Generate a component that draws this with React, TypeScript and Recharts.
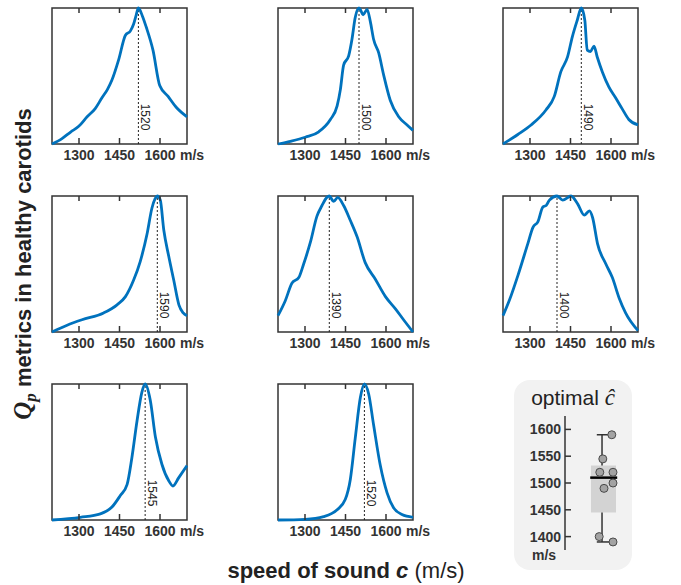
import {
  LineChart,
  Line,
  XAxis,
  YAxis,
  ReferenceLine,
  ReferenceArea,
  ReferenceDot,
  ComposedChart,
  Scatter,
} from 'recharts';

const SPEED_TICKS = [1300, 1450, 1600];
const OPTIMAL_TICKS = [1400, 1450, 1500, 1550, 1600];

const c1Speed = [1200, 1237, 1270, 1299, 1330, 1360, 1385, 1405, 1422, 1447, 1472, 1490, 1502, 1512, 1520, 1535, 1549, 1574, 1599, 1630, 1660, 1700];
const c1Q = [0, 0.04, 0.09, 0.13, 0.2, 0.26, 0.34, 0.4, 0.47, 0.62, 0.8, 0.83, 0.88, 0.95, 1.0, 0.94, 0.86, 0.69, 0.43, 0.35, 0.27, 0.2];

const c2Speed = [1200, 1246, 1301, 1351, 1394, 1419, 1431, 1443, 1462, 1474, 1486, 1500, 1507, 1515, 1530, 1542, 1554, 1573, 1591, 1616, 1647, 1678, 1700];
const c2Q = [0, 0.02, 0.05, 0.09, 0.18, 0.28, 0.4, 0.58, 0.65, 0.77, 0.93, 1.0, 0.98, 0.95, 0.99, 0.9, 0.77, 0.67, 0.51, 0.32, 0.2, 0.14, 0.1];

const c3Speed = [1200, 1255, 1304, 1359, 1390, 1414, 1439, 1457, 1475, 1490, 1503, 1512, 1524, 1537, 1549, 1568, 1592, 1617, 1641, 1666, 1700];
const c3Q = [0, 0.07, 0.14, 0.25, 0.35, 0.53, 0.64, 0.79, 0.91, 1.0, 0.91, 0.69, 0.68, 0.72, 0.64, 0.53, 0.42, 0.34, 0.26, 0.18, 0.14];

const c4Speed = [1200, 1256, 1311, 1391, 1441, 1472, 1502, 1527, 1552, 1570, 1582, 1590, 1601, 1614, 1632, 1651, 1670, 1686, 1700];
const c4Q = [0, 0.05, 0.09, 0.14, 0.2, 0.26, 0.38, 0.52, 0.72, 0.91, 0.98, 1.0, 0.97, 0.75, 0.56, 0.38, 0.2, 0.14, 0.12];

const c5Speed = [1200, 1227, 1252, 1277, 1295, 1320, 1344, 1363, 1381, 1390, 1406, 1421, 1443, 1468, 1493, 1523, 1560, 1598, 1635, 1665, 1700];
const c5Q = [0.12, 0.23, 0.36, 0.4, 0.5, 0.66, 0.85, 0.93, 0.99, 1.0, 0.96, 0.99, 0.93, 0.82, 0.7, 0.51, 0.39, 0.26, 0.17, 0.09, 0];

const c6Speed = [1200, 1225, 1256, 1292, 1311, 1329, 1348, 1360, 1372, 1400, 1421, 1452, 1477, 1501, 1520, 1532, 1550, 1581, 1605, 1630, 1654, 1700];
const c6Q = [0.12, 0.24, 0.42, 0.65, 0.77, 0.81, 0.92, 0.93, 0.97, 1.0, 0.97, 1.0, 0.94, 0.86, 0.89, 0.84, 0.65, 0.5, 0.4, 0.25, 0.14, 0.01];

const c7Speed = [1200, 1305, 1379, 1422, 1453, 1478, 1496, 1515, 1533, 1545, 1564, 1583, 1607, 1632, 1648, 1669, 1700];
const c7Q = [0, 0.02, 0.045, 0.095, 0.18, 0.26, 0.46, 0.73, 0.94, 1.0, 0.88, 0.61, 0.41, 0.29, 0.25, 0.31, 0.4];

const c8Speed = [1200, 1301, 1369, 1419, 1449, 1468, 1486, 1505, 1520, 1536, 1554, 1579, 1604, 1628, 1659, 1700];
const c8Q = [0, 0.005, 0.025, 0.075, 0.15, 0.3, 0.6, 0.9, 1.0, 0.925, 0.7, 0.4, 0.2, 0.09, 0.04, 0.02];

// optimal speed of sound per carotid (peak of each curve)
const OPTIMAL_C = [1520, 1500, 1490, 1590, 1390, 1400, 1545, 1520];
const OPTIMAL_JITTER = [0.58, 0.8, 0.65, 0.78, 0.8, 0.57, 0.63, 0.8];

const CURVES = [
  [c1Speed, c1Q],
  [c2Speed, c2Q],
  [c3Speed, c3Q],
  [c4Speed, c4Q],
  [c5Speed, c5Q],
  [c6Speed, c6Q],
  [c7Speed, c7Q],
  [c8Speed, c8Q],
];

const COL_LEFT = [52, 278, 503];
const ROW_TOP = [8, 196, 384];
const PLOT_H = 136;
const TICK_GAP = 6;
const BLUE = '#0072bd';
const INK = '#333';
const FONT = '"Liberation Sans", Arial, sans-serif';

// x tick: label below the box plus inward marks on bottom and top edges
function SpeedTick({ x, y, payload }: any) {
  const bottom = y - TICK_GAP;
  const top = bottom - PLOT_H;
  return (
    <g>
      <line x1={x} x2={x} y1={bottom} y2={bottom - 6} stroke={INK} strokeWidth={1.5} />
      <line x1={x} x2={x} y1={top} y2={top + 5} stroke={INK} strokeWidth={1.5} />
      <text x={x} y={y} dy="0.71em" textAnchor="middle" fontSize={14} fontWeight="bold" fill={INK} fontFamily={FONT}>
        {payload.value}
      </text>
      {payload.value === 1600 && (
        <text x={x + 20} y={y} dy="0.71em" textAnchor="start" fontSize={14} fontWeight="bold" fill={INK} fontFamily={FONT}>
          m/s
        </text>
      )}
    </g>
  );
}

// y tick for the optimal-c panel: inward mark right of the axis line
function OptimalTick({ x, y, payload }: any) {
  return (
    <g>
      <line x1={x + 4} x2={x + 10} y1={y} y2={y} stroke={INK} strokeWidth={1.5} />
      <text x={x} y={y} dy="0.36em" textAnchor="end" fontSize={14} fontWeight="bold" fill={INK} fontFamily={FONT}>
        {payload.value}
      </text>
    </g>
  );
}

function PeakLabel({ cx, cy, value }: any) {
  const lx = cx + 7;
  const ly = cy - 27;
  return (
    <text
      x={lx}
      y={ly}
      transform={`rotate(90 ${lx} ${ly})`}
      textAnchor="middle"
      dominantBaseline="central"
      fontSize={12}
      fill="#222"
      fontFamily={FONT}
    >
      {value}
    </text>
  );
}

function CurvePanel({ index }: { index: number }) {
  const [speed, q] = CURVES[index];
  const data = speed.map((c, i) => ({ c, q: q[i] }));
  const peak = OPTIMAL_C[index];
  const left = COL_LEFT[index % 3];
  const top = ROW_TOP[Math.floor(index / 3)];
  return (
    <div style={{ position: 'absolute', left: left - 4, top: top - 4 }}>
      <LineChart width={179} height={4 + PLOT_H + 35} data={data} margin={{ top: 4, right: 40, bottom: 15, left: 4 }}>
        <XAxis
          dataKey="c"
          type="number"
          domain={[1200, 1700]}
          ticks={SPEED_TICKS}
          height={20}
          axisLine={false}
          tickLine={false}
          tickSize={0}
          tickMargin={TICK_GAP}
          tick={<SpeedTick />}
        />
        <YAxis type="number" domain={[0, 1]} hide />
        <ReferenceArea x1={1200} x2={1700} y1={0} y2={1} fill="none" stroke={INK} strokeWidth={1.5} fillOpacity={0} ifOverflow="visible" />
        <ReferenceLine x={peak} stroke="#222" strokeDasharray="2 2" strokeWidth={1} />
        <ReferenceDot x={peak} y={0} r={0} ifOverflow="visible" shape={(p: any) => <PeakLabel {...p} value={peak} />} />
        <Line
          dataKey="q"
          type="monotone"
          stroke={BLUE}
          strokeWidth={2.8}
          dot={false}
          isAnimationActive={false}
        />
      </LineChart>
    </div>
  );
}

function median(a: number[]) {
  const n = a.length;
  return n % 2 ? a[(n - 1) / 2] : (a[n / 2 - 1] + a[n / 2]) / 2;
}

function OptimalPanel() {
  const sorted = [...OPTIMAL_C].sort((a, b) => a - b);
  const half = Math.floor(sorted.length / 2);
  const q1 = median(sorted.slice(0, half));
  const q3 = median(sorted.slice(sorted.length - half));
  const med = median(sorted);
  const lo = sorted[0];
  const hi = sorted[sorted.length - 1];
  const points = OPTIMAL_C.map((c, i) => ({ x: OPTIMAL_JITTER[i], c }));
  const wx = 0.617;

  return (
    <>
      <div
        style={{
          position: 'absolute',
          left: 514,
          top: 380,
          width: 118,
          height: 190,
          borderRadius: 16,
          background: '#f2f2f2',
        }}
      />
      <div
        style={{
          position: 'absolute',
          left: 573,
          top: 387,
          transform: 'translateX(-50%)',
          whiteSpace: 'nowrap',
          fontSize: 21,
          lineHeight: '21px',
          color: '#222',
          fontFamily: FONT,
        }}
      >
        optimal <span style={{ fontFamily: '"Liberation Serif", "DejaVu Serif", serif', fontStyle: 'italic', fontSize: 23 }}>ĉ</span>
      </div>
      <div style={{ position: 'absolute', left: 514, top: 380 }}>
        <ComposedChart width={118} height={190} margin={{ top: 36, right: 7, bottom: 20, left: 6 }}>
          <XAxis dataKey="x" type="number" domain={[0, 1]} hide />
          <YAxis
            dataKey="c"
            type="number"
            domain={[1375, 1625]}
            ticks={OPTIMAL_TICKS}
            width={45}
            tickLine={false}
            tickSize={0}
            tickMargin={4}
            axisLine={{ stroke: INK, strokeWidth: 1.5 }}
            tick={<OptimalTick />}
          />
          <ReferenceArea x1={0.433} x2={0.85} y1={q1} y2={q3} fill="#d3d3d3" fillOpacity={1} stroke="none" />
          <ReferenceLine segment={[{ x: wx, y: q3 }, { x: wx, y: hi }]} stroke={INK} strokeWidth={1.5} />
          <ReferenceLine segment={[{ x: wx, y: q1 }, { x: wx, y: lo }]} stroke={INK} strokeWidth={1.5} />
          <ReferenceLine segment={[{ x: 0.53, y: hi }, { x: 0.75, y: hi }]} stroke={INK} strokeWidth={1.5} />
          <ReferenceLine segment={[{ x: 0.53, y: lo }, { x: 0.75, y: lo }]} stroke={INK} strokeWidth={1.5} />
          <ReferenceLine segment={[{ x: 0.42, y: med }, { x: 0.87, y: med }]} stroke="#000" strokeWidth={2.5} />
          <Scatter
            data={points}
            isAnimationActive={false}
            shape={(p: any) => <circle cx={p.cx} cy={p.cy} r={4} fill="#a3a3a3" stroke="#4a4a4a" strokeWidth={1} />}
          />
        </ComposedChart>
      </div>
      <div
        style={{
          position: 'absolute',
          left: 544,
          top: 548,
          transform: 'translateX(-50%)',
          fontSize: 14,
          lineHeight: '14px',
          fontWeight: 'bold',
          color: INK,
          fontFamily: FONT,
        }}
      >
        m/s
      </div>
    </>
  );
}

export default function App() {
  return (
    <div
      style={{
        position: 'absolute',
        left: 0,
        top: 0,
        width: 681,
        height: 585,
        overflow: 'hidden',
        background: '#fff',
        fontFamily: FONT,
      }}
    >
      {CURVES.map((_, i) => (
        <CurvePanel key={i} index={i} />
      ))}
      <OptimalPanel />

      {/* y title */}
      <div
        style={{
          position: 'absolute',
          left: 27,
          top: 264,
          transform: 'translate(-50%, -50%) rotate(-90deg)',
          whiteSpace: 'nowrap',
          fontSize: 22,
          lineHeight: '24px',
          fontWeight: 'bold',
          color: '#222',
        }}
      >
        <span style={{ fontFamily: '"Liberation Serif", "DejaVu Serif", serif', fontStyle: 'italic', fontSize: 25 }}>
          Q<sub style={{ fontSize: 17, verticalAlign: '-0.25em' }}>p</sub>
        </span>{' '}
        metrics in healthy carotids
      </div>

      {/* x title */}
      <div
        style={{
          position: 'absolute',
          left: 346,
          top: 560,
          transform: 'translateX(-50%)',
          whiteSpace: 'nowrap',
          fontSize: 22,
          lineHeight: '22px',
          color: '#222',
        }}
      >
        <b>speed of sound </b>
        <b style={{ fontStyle: 'italic' }}>c</b>
        <span> (m/s)</span>
      </div>
    </div>
  );
}
